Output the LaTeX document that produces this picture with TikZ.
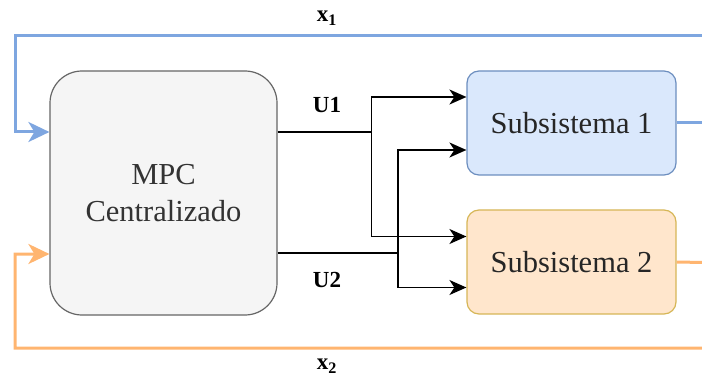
\documentclass[tikz,border=0pt]{standalone}
\usepackage{fontspec}
\setmainfont{Liberation Serif}
\usetikzlibrary{arrows.meta}
\definecolor{ctrlfill}{HTML}{F5F5F5}
\definecolor{ctrlline}{HTML}{666666}
\definecolor{ctrltext}{HTML}{333333}
\definecolor{bluefill}{HTML}{DAE8FC}
\definecolor{blueline}{HTML}{6C8EBF}
\definecolor{bluewire}{HTML}{7EA6E0}
\definecolor{orangefill}{HTML}{FFE6CC}
\definecolor{orangeline}{HTML}{D6B656}
\definecolor{orangewire}{HTML}{FFB570}
\tikzset{
  ctrlbox/.style={draw=ctrlline, fill=ctrlfill, line width=1.2pt, rounded corners=32pt,
    minimum width=227pt, minimum height=244pt, inner sep=0pt, align=center,
    text=ctrltext, font=\fontsize{30.5}{37}\selectfont},
  subbox/.style={line width=1.2pt, rounded corners=12pt,
    minimum width=209pt, minimum height=104pt, inner sep=0pt, align=center,
    text=black!85, font=\fontsize{30.5}{35}\selectfont},
  wire/.style={line width=1.8pt, -{Stealth[length=17pt,width=15pt,inset=5pt]}},
  plainwire/.style={line width=1.8pt},
  fbwire/.style={line width=3pt, -{Stealth[length=21pt,width=20pt,inset=6pt]}},
  lbl/.style={inner sep=0pt, font=\fontsize{23}{25}\selectfont\bfseries}
}
\begin{document}
\begin{tikzpicture}[x=1pt,y=-1pt]
\useasboundingbox (0,0) rectangle (702,377);
\clip (0,0) rectangle (702,377);

% blocks
\node[ctrlbox] (mpc) at (163.5,193) {MPC\\Centralizado};
\node[subbox, draw=blueline, fill=bluefill] (s1) at (571.5,123) {Subsistema 1};
\node[subbox, draw=orangeline, fill=orangefill] (s2) at (571.5,262) {Subsistema 2};

% junctions of the control signals
\coordinate (j1) at (371.5,132);
\coordinate (j2) at (398,253);

% U1
\draw[plainwire] ([yshift=61pt]mpc.east) -- (j1);
\draw[wire] (j1) |- ([yshift=26pt]s1.west);
\draw[wire] (j1) |- ([yshift=25.5pt]s2.west);
% U2
\draw[plainwire] ([yshift=-60pt]mpc.east) -- (j2);
\draw[wire] (j2) |- ([yshift=-27pt]s1.west);
\draw[wire] (j2) |- ([yshift=-25.5pt]s2.west);

% feedback of the states
\coordinate (r1) at (730,123);
\coordinate (l1) at (15,36);
\coordinate (r2) at (730,263);
\coordinate (l2) at (15,348);
\draw[fbwire, draw=bluewire, color=bluewire] (s1.east) -- (r1) |- (l1) |- ([yshift=61pt]mpc.west);
\draw[fbwire, draw=orangewire, color=orangewire] (s2.east) -- (r2) |- (l2) |- ([yshift=-61pt]mpc.west);

% labels
\node[lbl] (x1) at (327,18) {x\textsubscript{1}};
\node[lbl] (u1) at (327,105) {U1};
\node[lbl] (u2) at (327,280) {U2};
\node[lbl] (x2) at (327,366) {x\textsubscript{2}};
\end{tikzpicture}
\end{document}
